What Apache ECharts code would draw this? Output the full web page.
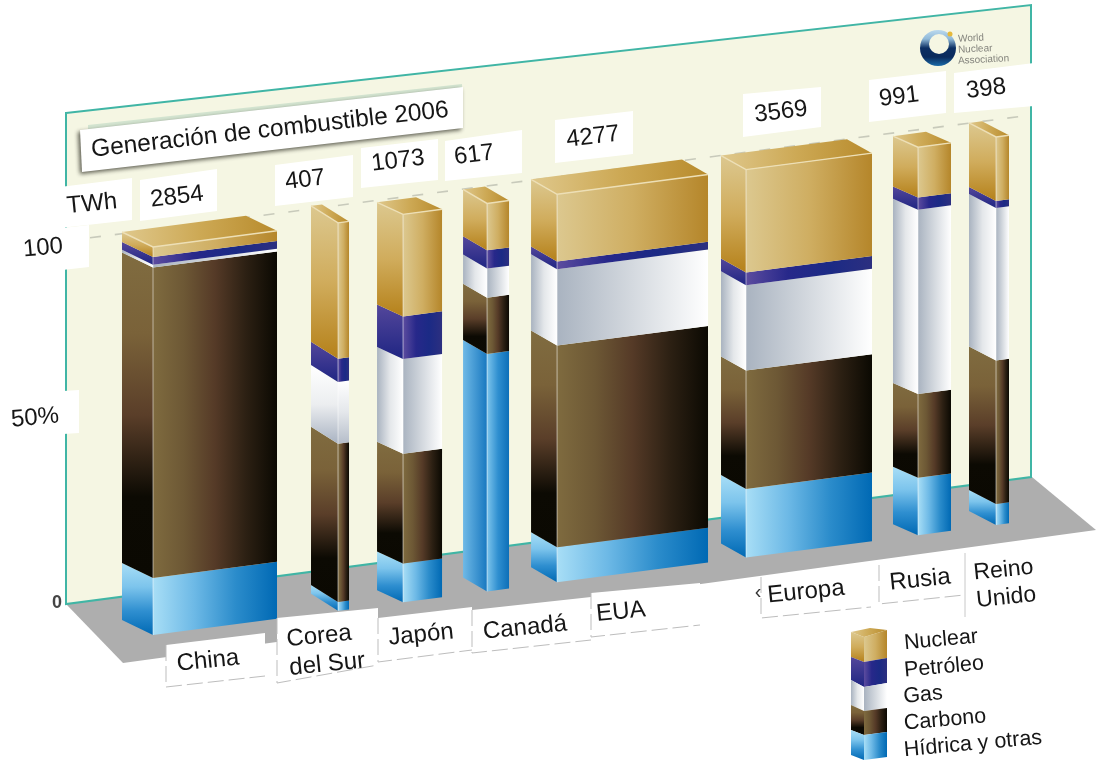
<!DOCTYPE html>
<html><head><meta charset="utf-8">
<style>html,body{margin:0;padding:0;background:#fff}#c{width:1096px;height:761px;filter:blur(0.7px)}</style>
<script src="https://cdn.jsdelivr.net/npm/echarts@6/dist/echarts.min.js"></script>
</head><body><div id="c"></div>
<script>
// ---------- data ----------
const countries = ['China','Corea\ndel Sur','Japón','Canadá','EUA','Europa','Rusia','Reino\nUnido'];
const twhLabels = ['2854','407','1073','617','4277','3569','991','398'];
const drawnTWh  = [3513,312,1105,623,4277,3569,935,368];
const hidrica  = [14.7, 2.3,10.0,61.2, 9.0,17.7,14.8, 5.4];
const carbono  = [80.0,40.8,28.3,14.5,52.0,30.5,21.6,37.0];
const gas      = [ 0.7,15.9,24.4, 7.5,19.7,22.0,47.5,39.3];
const petroleo = [ 2.0, 6.0,11.0, 4.7, 2.0, 3.3, 3.1, 1.8];
const nuclear  = [ 2.6,35.0,26.3,12.1,17.3,26.5,13.0,16.5];
const fuelNames = ['Hídrica y otras','Carbono','Gas','Petróleo','Nuclear'];
const yTicks = ['100','50%','0'];
const titleText = 'Generación de combustible 2006';

// ---------- layout ----------
const GL = 153, GW = 856, GT = 247, GH = 388, XMAX = 24249, SHEAR = -0.1305;
const gapTWh = [0,1728,1530,1275,1360,1076,1303,1275];
const depthX = [31,27,26,24,26,25,25,27];
const depthY = [15,17,12,14,15,14,11,14];
const LG = (a,b,stops)=>new echarts.graphic.LinearGradient(0,0,a,b,stops.map((c,i)=>({offset:stops.length>1?i/(stops.length-1):0,color:c})));
const looks = {
 'Hídrica y otras':{front:['#a8def6','#6db9e6','#2b8ccb','#0069b4'],side:['#a8def6','#7cc4ec','#2f8fd0','#0069b4'],v:1},
 'Carbono':{front:['#7f6b3f','#6d5835','#553a27','#2c2013','#0b0902'],side:['#806c40','#7a6239','#5a3e29','#0c0a03','#0b0902'],v:1},
 'Gas':{front:['#a9b3c0','#d4d9df','#ffffff'],side:['#a9b3c0','#e4e7ea','#ffffff'],v:0},
 'Petróleo':{front:['#5c4c9f','#27288a','#1b2a85','#2c2f80'],side:['#54479b','#1f2583'],v:1},
 'Nuclear':{front:['#dcc88f','#cfae62','#b5862a'],side:['#dcc88f','#d0ac5c','#b5811a'],v:1}
};
const stackSeries = [hidrica,carbono,gas,petroleo,nuclear];

// start position of every bar along the TWh axis, from widths and gaps
let run = 0; const barStart = drawnTWh.map((w,i)=>{run += gapTWh[i]; const s = run; run += w; return s;});

function project(api,x,p){const c=api.coord([x,p]);return [c[0],c[1]+SHEAR*(c[0]-GL)];}

function renderSegment(params,api){
  const s=api.value(0),e=api.value(1),lo=api.value(2),hi=api.value(3),b=api.value(4),isTop=api.value(5);
  const name=params.seriesName,L=looks[name],dx=depthX[b],dy=depthY[b];
  const fl=project(api,s,hi),fr=project(api,e,hi),br=project(api,e,lo),bl=project(api,s,lo);
  const back=p=>[p[0]-dx,p[1]-dy];
  let sideFill=LG(L.v?0:1,L.v?1:0,L.side), frontFill=LG(1,0,L.front);
  if(name==='Hídrica y otras' && hi-lo>40){sideFill=LG(1,0,['#6fb9e6','#1878c0']);frontFill=LG(1,0,['#7cc4ec','#2f8fd0','#0d6fb8']);}
  if(name==='Gas' && e-s<330){sideFill=LG(0,1,['#ffffff','#eceef0','#a9b3c2']);frontFill=LG(0,1,['#ffffff','#e4e7eb','#b5bdc9']);}
  const ch=[
    {type:'polygon',shape:{points:[back(fl),fl,bl,back(bl)]},style:{fill:sideFill}},
    {type:'polygon',shape:{points:[fl,fr,br,bl]},style:{fill:frontFill}},
    {type:'line',shape:{x1:fl[0],y1:fl[1],x2:bl[0],y2:bl[1]},style:{stroke:'rgba(255,255,255,0.32)',lineWidth:1.6}}
  ];
  if(isTop){
    ch.push({type:'polygon',shape:{points:[back(fl),back(fr),fr,fl]},style:{fill:LG(1,0,['#dfc88c','#cda955','#b88b2c'])}});
    ch.push({type:'polyline',shape:{points:[back(fl),fl,fr]},style:{stroke:'#eddfb6',lineWidth:1.4,fill:'none'}});
  }
  return {type:'group',children:ch};
}

const series=[{
  type:'custom',name:'100',silent:true,z:1,clip:false,data:[[-1048,25580]],
  renderItem(p,api){
    const a=project(api,api.value(0),100),b=project(api,api.value(1),100);
    return {type:'line',shape:{x1:a[0]-26,y1:a[1]-14,x2:b[0]-26,y2:b[1]-14},style:{stroke:'#c8cabb',lineWidth:1.6,lineDash:[11,14]}};
  }
}];
fuelNames.forEach((n,f)=>{
  series.push({type:'custom',name:n,silent:true,z:3,clip:false,renderItem:renderSegment,
    encode:{x:[0,1],y:[2,3]},
    data:countries.map((c,b)=>{
      let lo=0;for(let k=0;k<f;k++)lo+=stackSeries[k][b];
      return [barStart[b],barStart[b]+drawnTWh[b],lo,lo+stackSeries[f][b],b,f===4?1:0];
    })});
});

// ---------- furniture: wall, floor, label plates, legend ----------
const g=[];
const FONT='"Liberation Sans",Arial,sans-serif';
const poly=(points,fill,z,extra)=>g.push(Object.assign({type:'polygon',silent:true,z,shape:{points},style:Object.assign({fill},extra||{})}));
const txt=(x,y,text,size,rot,z,fill,weight,al)=>g.push({type:'text',silent:true,z:z||12,x,y,rotation:rot,style:{text,x:0,y:0,fill:fill||'#161616',font:(weight||'normal')+' '+size+'px '+FONT,align:al||'center',verticalAlign:'middle',textAlign:al||'center',textVerticalAlign:'middle',lineHeight:size*1.2}});

poly([[66,604],[1032,477],[1096,530],[123,663]],'#aeaeae',0);
poly([[66,113],[1031,5],[1031,477],[66,604]],'#f5f6e3',1,{stroke:'#40b5a5',lineWidth:2});
poly([[88,125],[462,84],[462,88],[88,130]],'#d3e4d0',2);

// white plates
const plates=[[0,235,89,225,89,267,0,277],[60,187,132,178,132,220,60,228],[0,395,79,390,79,433,0,438],
 [140,180,217,169,217,211,140,221],[275,165,353,155,353,197,275,206],[361,148,438,139,438,180,361,188],
 [445,141,522,130,522,173,445,181],[555,120,633,111,633,154,555,163],[743,94,821,87,821,127,743,137],
 [869,80,946,71,946,113,869,122],[954,73,1034,63,1034,106,954,113]];
plates.forEach(p=>poly([[p[0],p[1]],[p[2],p[3]],[p[4],p[5]],[p[6],p[7]]],'#fff',10));
poly([[80,130],[463,87],[463,128],[82,172]],'#fff',10,{shadowBlur:4,shadowColor:'rgba(40,40,30,0.75)',shadowOffsetX:-2,shadowOffsetY:2});
txt(270,130,titleText,24.5,0.112,12);
txt(92,204,'TWh',24,0.1,12);
txt(43,248,yTicks[0],24,0.09,12);
txt(35,418,yTicks[1],24,0.09,12);
txt(57,603,yTicks[2],18,0,12,'#444','bold');

const numPos=[[177,197],[305,180],[398,161],[474,155],[593,137],[781,112],[899,97],[986,89]];
twhLabels.forEach((t,i)=>txt(numPos[i][0],numPos[i][1],t,24,0.12,12));

// country plates
const cPlates=[[166,645,265,633,265,676,166,687],[277,618,378,608,378,665,277,683],[378,618,472,607,472,650,378,662],
 [472,610,591,597,591,640,472,653],[591,593,700,583,700,625,591,637],[761,577,871,563,871,607,761,618],[879,565,964,553,964,595,879,604]];
cPlates.forEach(p=>{
  poly([[p[0],p[1]],[p[2],p[3]],[p[4],p[5]],[p[6],p[7]]],'#fff',10);
  g.push({type:'polyline',silent:true,z:11,shape:{points:[[p[0],p[1]],[p[6],p[7]],[p[4],p[5]]]},style:{stroke:'#bdbdbd',lineWidth:1,lineDash:[16,5],fill:'none'}});
});
g.push({type:'line',silent:true,z:11,shape:{x1:965,y1:553,x2:965,y2:617},style:{stroke:'#c8c8c8',lineWidth:1}});
const cPos=[[208,661],[288,654],[421,635],[525,628],[621,612],[806,592],[920,580],[975,587]];
countries.forEach((t,i)=>txt(cPos[i][0],cPos[i][1],t,i===7?23:24,0.1,12,null,null,(i===1||i===7)?'left':'center'));
txt(758,592,'‹',20,0,12,'#333');

// legend glyph
const fy=[637,662,687,711,735,760], ly=[632,657,680,705,730,755], ry=[630,658,683,708,732,757];
const lx=851,mx=864,rx=887;
const lOrder=['Nuclear','Petróleo','Gas','Carbono','Hídrica y otras'];
lOrder.forEach((n,i)=>{
  const L=looks[n];
  poly([[lx,ly[i]],[mx,fy[i]],[mx,fy[i+1]],[lx,ly[i+1]]],LG(L.v?0:1,L.v?1:0,L.side),10);
  poly([[mx,fy[i]],[rx,ry[i]],[rx,ry[i+1]],[mx,fy[i+1]]],LG(1,0,L.front),10);
});
poly([[lx,ly[0]],[870,628],[rx,ry[0]],[mx,fy[0]]],LG(1,0,['#dfc88c','#cda955','#b88b2c']),10);
const lPos=[[941,640],[944,667],[923,695],[945,720],[973,744]];
lOrder.forEach((n,i)=>txt(lPos[i][0],lPos[i][1],n,21.5,0.09,12));

// logo
g.push({type:'circle',silent:true,z:5,shape:{cx:938,cy:48,r:18},style:{fill:LG(0,1,['#bcd9ee','#8fb9d8','#0c2f63','#0a2a5c','#1a6aa8'])}});
g.push({type:'circle',silent:true,z:6,shape:{cx:939,cy:44,r:10},style:{fill:'#f5f6e3'}});
g.push({type:'circle',silent:true,z:7,shape:{cx:950,cy:34,r:2.5},style:{fill:'#e6b93a'}});
['World','Nuclear','Association'].forEach((t,i)=>g.push({type:'text',silent:true,z:7,x:958,y:[39,50,61][i],rotation:0.05,style:{text:t,x:0,y:0,fill:'#85857e',font:'10px '+FONT,align:'left',verticalAlign:'middle',textAlign:'left',textVerticalAlign:'middle'}}));

const chart=echarts.init(document.getElementById('c'),null,{width:1096,height:761});
chart.setOption({
  animation:false,backgroundColor:'#fff',
  grid:{left:GL,width:GW,top:GT,height:GH},
  xAxis:{type:'value',min:0,max:XMAX,show:false},
  yAxis:{type:'value',min:0,max:100,interval:50,show:false},
  graphic:{elements:g},
  series
});
</script></body></html>
